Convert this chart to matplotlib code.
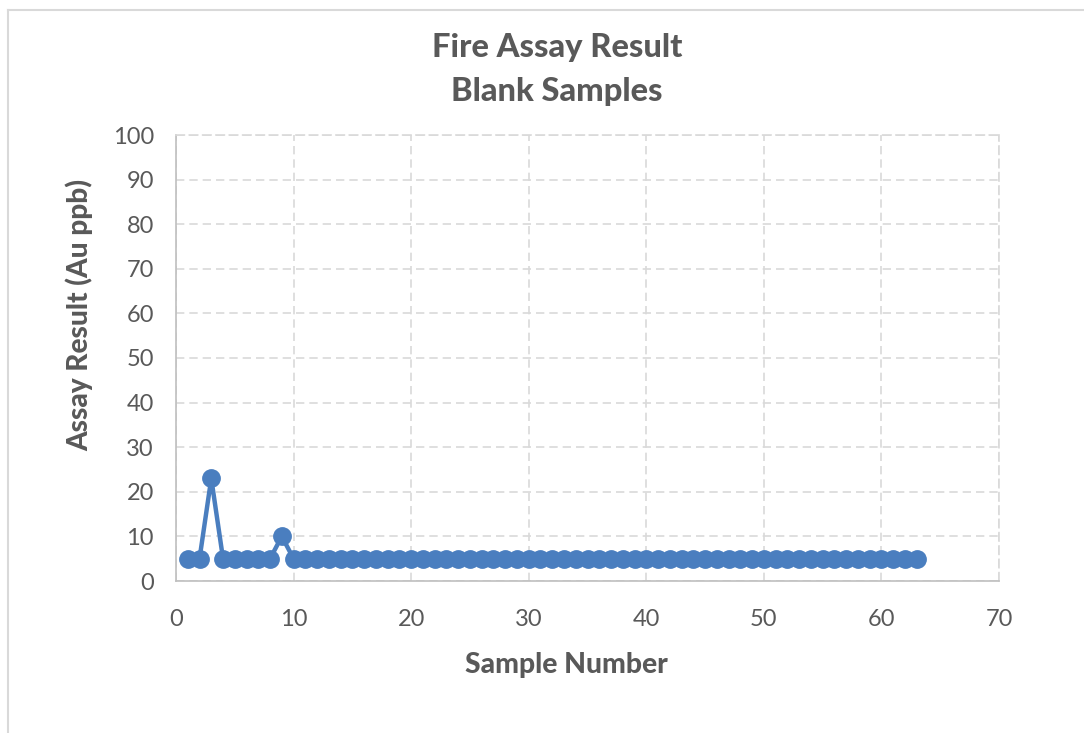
import matplotlib.pyplot as plt
from matplotlib.lines import Line2D

# Blank sample assay results (Au ppb)
sample_number = list(range(1, 64))
assay_result = [5, 5, 23, 5, 5, 5, 5, 5, 10] + [5] * 54

x_ticks = [0, 10, 20, 30, 40, 50, 60, 70]
y_ticks = [0, 10, 20, 30, 40, 50, 60, 70, 80, 90, 100]

plt.rcParams['font.family'] = ['Lato', 'DejaVu Sans']
text_color = '#595959'
grid_color = '#d9d9d9'
line_color = '#4a7ebf'

fig = plt.figure(figsize=(10.84, 7.33), dpi=100)
fig.patch.set_facecolor('white')

# outer chart frame (only top and left visible in the crop)
fig.add_artist(Line2D([8 / 1084, 1], [1 - 10 / 733, 1 - 10 / 733], color='#d9d9d9', lw=1.5))
fig.add_artist(Line2D([8 / 1084, 8 / 1084], [0, 1 - 10 / 733], color='#d9d9d9', lw=1.5))

ax = fig.add_axes([176 / 1084, 1 - 581 / 733, (999 - 176) / 1084, (581 - 135) / 733])

ax.plot(sample_number, assay_result, color=line_color, lw=3.2, marker='o',
        markersize=12.5, markerfacecolor=line_color, markeredgecolor=line_color,
        zorder=3, clip_on=False)

ax.set_xlim(0, 70)
ax.set_ylim(0, 100)
ax.set_xticks(x_ticks)
ax.set_yticks(y_ticks)
ax.tick_params(length=0, labelsize=17, colors=text_color)
ax.tick_params(axis='x', pad=20)
ax.tick_params(axis='y', pad=16)

ax.grid(True, color=grid_color, lw=1.2, linestyle=(0, (5, 3)))
ax.set_axisbelow(True)
for side in ['left', 'bottom']:
    ax.spines[side].set_color('#bfbfbf')
    ax.spines[side].set_linewidth(1.2)
for side in ['top', 'right']:
    ax.spines[side].set_color(grid_color)
    ax.spines[side].set_linewidth(1.2)
    ax.spines[side].set_linestyle((0, (5, 3)))

# axis titles placed like the original (slightly off-centre)
fig.text(566 / 1084, 1 - 665 / 733, 'Sample Number', ha='center', va='center',
         fontsize=20.3, fontweight='black', color=text_color)
fig.text(79 / 1084, 1 - 315 / 733, 'Assay Result (Au ppb)', ha='center', va='center',
         rotation=90, fontsize=20.2, fontweight='black', color=text_color)

fig.text(557 / 1084, 1 - 48 / 733, 'Fire Assay Result', ha='center', va='center',
         fontsize=23.5, fontweight='black', color=text_color)
fig.text(557 / 1084, 1 - 92 / 733, 'Blank Samples', ha='center', va='center',
         fontsize=23.5, fontweight='black', color=text_color)

fig.savefig('out.png', dpi=100, facecolor='white')
